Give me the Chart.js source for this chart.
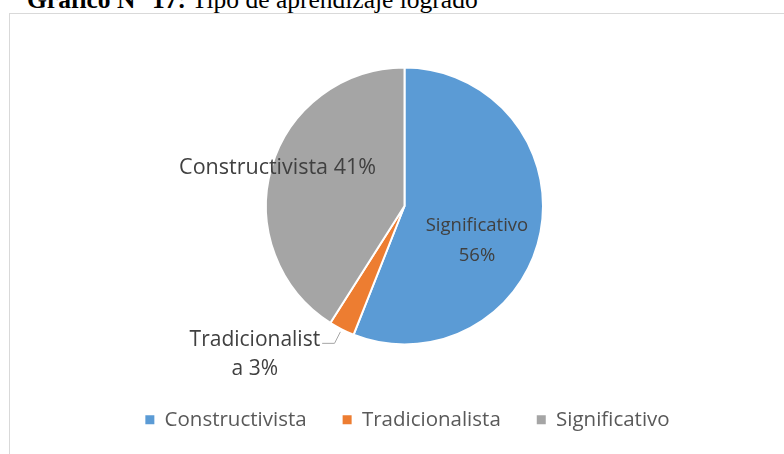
<!DOCTYPE html>
<html>
<head>
<meta charset="utf-8">
<script src="https://cdn.jsdelivr.net/npm/chart.js@4"></script>
<style>
  html, body { margin: 0; padding: 0; background: #fff; width: 784px; height: 454px; overflow: hidden; }
  #title { position: absolute; left: 27px; top: -13.5px; font-family: "Liberation Serif", serif; font-size: 25.5px; line-height: 1; color: #000; white-space: nowrap; }
  #frame { position: absolute; left: 9px; top: 13px; width: 900px; height: 600px; border: 1px solid #d9d9d9; }
  #chart { position: absolute; left: 0; top: 0; }
</style>
</head>
<body>
<div id="title"><b>Gráfico N° 17:</b> Tipo de aprendizaje logrado</div>
<div id="frame"></div>
<canvas id="chart" width="784" height="454"></canvas>
<script>
/* ---- data ---- */
const categories = ['Constructivista', 'Tradicionalista', 'Significativo'];
const values = [56, 3, 41];
// names printed on the slices (as in the original figure)
const sliceNames = ['Significativo', 'Tradicionalista', 'Constructivista'];
const colors = ['#5B9BD5', '#ED7D31', '#A5A5A5'];

/* ---- label layout: distance (x radius), angle shift (deg), font size ---- */
const labelLayout = [
    { dist: 0.58, shift: 14.8, size: 18.5, lineH: 30, wrap: 'word' },
    { dist: 1.52, shift: 18.3, size: 21, lineH: 29, wrap: 14, leader: true },
    { dist: 0.957, shift: 0.5, size: 21.5, lineH: 24, wrap: null }
];

const total = values.reduce((a, b) => a + b, 0);

function labelLines(i) {
    const full = sliceNames[i] + ' ' + Math.round(values[i] / total * 100) + '%';
    const w = labelLayout[i].wrap;
    if (w === 'word') {
        const k = full.lastIndexOf(' ');
        return [full.slice(0, k), full.slice(k + 1)];
    }
    if (typeof w === 'number') return [full.slice(0, w), full.slice(w)];
    return [full];
}

const sliceLabels = {
    id: 'sliceLabels',
    afterLayout(chart) {
        // legend in the original sits a few px right of the pie centre
        chart.legend.left += 3;
        chart.legend.right += 3;
    },
    afterDatasetsDraw(chart) {
        const ctx = chart.ctx;
        const arcs = chart.getDatasetMeta(0).data;
        arcs.forEach((arc, i) => {
            const p = arc.getProps(['x', 'y', 'startAngle', 'endAngle', 'outerRadius'], true);
            const lay = labelLayout[i];
            const mid = (p.startAngle + p.endAngle) / 2;
            const a = mid + lay.shift * Math.PI / 180;
            const cx = p.x + Math.cos(a) * p.outerRadius * lay.dist;
            const cy = p.y + Math.sin(a) * p.outerRadius * lay.dist;
            const lines = labelLines(i);

            ctx.save();
            ctx.font = lay.size + 'px "Open Sans"';
            ctx.fillStyle = '#404040';
            ctx.textAlign = 'center';
            ctx.textBaseline = 'middle';
            const y0 = cy - (lines.length - 1) * lay.lineH / 2;
            lines.forEach((t, k) => ctx.fillText(t, cx, y0 + k * lay.lineH));

            if (lay.leader) {
                const r1 = p.outerRadius * 1.02, r2 = p.outerRadius * 1.113;
                const ex = p.x + Math.cos(mid) * r2, ey = p.y + Math.sin(mid) * r2;
                const tw = ctx.measureText(lines[0]).width;
                ctx.strokeStyle = '#A6A6A6';
                ctx.lineWidth = 1;
                ctx.beginPath();
                ctx.moveTo(p.x + Math.cos(mid) * r1, p.y + Math.sin(mid) * r1);
                ctx.lineTo(ex, ey);
                ctx.lineTo(cx + tw / 2 + 2, ey);
                ctx.stroke();
            }
            ctx.restore();
        });
    }
};

const baseLabels = Chart.overrides.pie.plugins.legend.labels.generateLabels;

new Chart(document.getElementById('chart'), {
    type: 'pie',
    data: {
        labels: categories,
        datasets: [{
            data: values,
            backgroundColor: colors,
            borderColor: '#ffffff',
            borderWidth: 2,
            hoverOffset: 0,
            radius: 138.5
        }]
    },
    options: {
        responsive: false,
        animation: false,
        devicePixelRatio: 1,
        layout: { padding: { left: 25, right: 0, top: 38.5, bottom: 14 } },
        plugins: {
            legend: {
                position: 'bottom',
                labels: {
                    font: { family: 'Open Sans', size: 20.5 },
                    color: '#595959',
                    boxWidth: 9,
                    boxHeight: 9,
                    padding: 36,
                    // no white slice border around the legend squares
                    generateLabels: (chart) => baseLabels(chart).map(l => ({ ...l, lineWidth: 0 }))
                }
            },
            tooltip: { enabled: false }
        }
    },
    plugins: [sliceLabels]
});
</script>
</body>
</html>
